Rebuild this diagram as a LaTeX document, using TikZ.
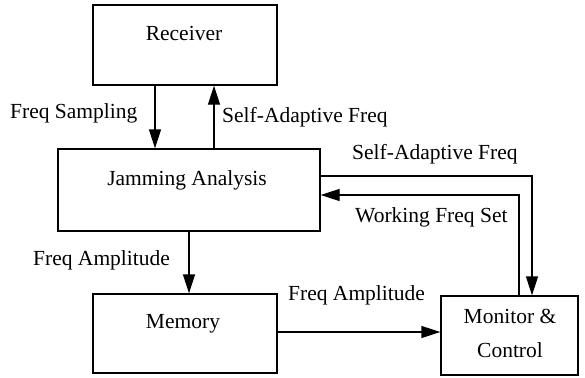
\documentclass[tikz,border=0pt]{standalone}
\usepackage{fontspec}
\setmainfont{Liberation Serif}
\usetikzlibrary{arrows.meta}
\begin{document}
\begin{tikzpicture}[x=1pt,y=1pt,
  box/.style={draw, line width=1.3pt, minimum width=#1, inner sep=0pt},
  txt/.style={font=\fontsize{21.5}{24}\selectfont, inner sep=0pt},
  arr/.style={line width=1.3pt, -{Triangle[length=19pt,width=12pt]}},
  wire/.style={line width=1.3pt}]
\useasboundingbox (0,0) rectangle (585,-377);
% blocks
\node[box=184pt, minimum height=80pt] (recv) at (185,-45) {};
\node[box=262pt, minimum height=82pt] (jam) at (189,-190) {};
\node[box=184pt, minimum height=79pt] (mem) at (185,-333.5) {};
\node[box=137pt, minimum height=79pt] (mon) at (509.5,-335.5) {};
% block titles
\node[txt, anchor=base] (trecv) at (184,-41) {Receiver};
\node[txt, anchor=base] (tjam) at (187,-185) {Jamming Analysis};
\node[txt, anchor=base] (tmem) at (183,-328) {Memory};
\node[txt, anchor=base] (tmon1) at (510,-323) {Monitor \&};
\node[txt, anchor=base] (tmon2) at (510,-357) {Control};
% connectors
\draw[arr] (recv.south -| 155,0) -- (jam.north -| 155,0);
\draw[arr] (jam.north -| 214,0) -- (recv.south -| 214,0);
\draw[arr] (jam.south -| 189,0) -- (mem.north -| 189,0);
\draw[arr] (mem.east |- 0,-332) -- (mon.west |- 0,-332);
\coordinate (c1) at (532,-176);
\draw[arr] (jam.east |- c1) -- (c1) -- (mon.north -| c1);
\coordinate (c2) at (519,-195);
\draw[arr] (mon.north -| c2) -- (c2) -- (jam.east |- c2);
% connector labels
\node[txt, anchor=base west] (l1) at (10,-118) {Freq Sampling};
\node[txt, anchor=base west] (l2) at (222,-122) {Self-Adaptive Freq};
\node[txt, anchor=base west] (l3) at (352,-159) {Self-Adaptive Freq};
\node[txt, anchor=base west] (l4) at (355,-222) {Working Freq Set};
\node[txt, anchor=base west] (l5) at (33,-265) {Freq Amplitude};
\node[txt, anchor=base west] (l6) at (288,-300) {Freq Amplitude};
\end{tikzpicture}
\end{document}
